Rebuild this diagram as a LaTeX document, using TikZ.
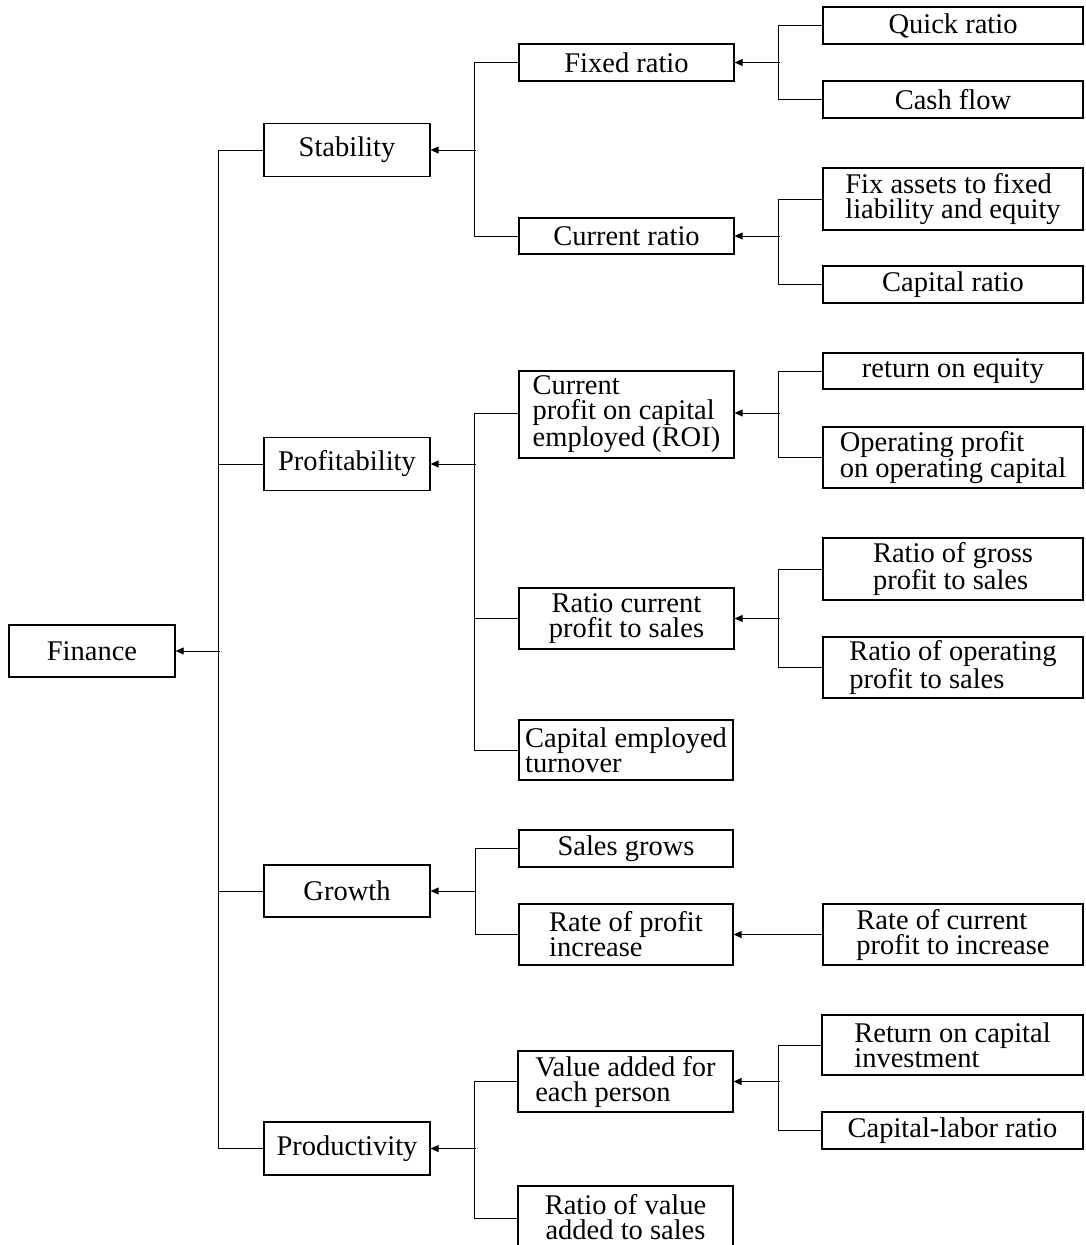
\documentclass[tikz,border=0pt]{standalone}
\usepackage{fontspec}
\setmainfont{Liberation Serif}
\usetikzlibrary{arrows.meta}

\begin{document}
\begin{tikzpicture}[x=1pt,y=-1pt,
  box/.style={draw, line width=1.2pt, inner sep=0pt, align=left,
    font={\fontsize{28.5}{25}\selectfont}},
  lone/.style={box, minimum width=166pt, minimum height=53pt},
  ltwo/.style={box, minimum width=215pt},
  lthree/.style={box, minimum width=260pt},
  link/.style={line width=0.9pt},
  arr/.style={link, -{Triangle[length=8pt,width=7pt]}}]

\useasboundingbox (0,0) rectangle (1085,1245);

% root
\node[lone, minimum height=52pt] (fin) at (92,651) {Finance};

% first level
\node[lone] (stab) at (347,150) {Stability};
\node[lone] (prof) at (347,464) {Profitability};
\node[lone, minimum height=52pt] (grow) at (347,891) {Growth};
\node[lone] (prod) at (347,1148.5) {Productivity};

% second level
\node[ltwo, minimum height=37pt] (fixr) at (626.5,62.5) {Fixed ratio};
\node[ltwo, minimum height=36pt] (curr) at (626.5,236) {Current ratio};
\node[ltwo, minimum height=87pt] (roi) at (626.5,414.5) {Current\\profit on capital\\employed (ROI)};
\node[ltwo, minimum height=61pt, align=center] (rcps) at (626.5,618.5) {Ratio current\\profit to sales};
\node[ltwo, minimum height=60pt, minimum width=214pt] (cet) at (626,750) {Capital employed\\turnover};
\node[ltwo, minimum height=37pt, minimum width=214pt] (sg) at (626,848.5) {Sales grows};
\node[ltwo, minimum height=61pt, minimum width=214pt] (rpi) at (626,934.5) {Rate of profit\\increase};
\node[ltwo, minimum height=61pt] (vae) at (625.5,1081.5) {Value added for\\each person};
\node[ltwo, minimum height=62pt, align=center] (rva) at (625.5,1217) {Ratio of value\\added to sales};

% third level
\node[lthree, minimum height=37pt] (qr) at (953,25.5) {Quick ratio};
\node[lthree, minimum height=37pt] (cf) at (953,99.5) {Cash flow};
\node[lthree, minimum height=62pt] (fa) at (953,199) {Fix assets to fixed\\liability and equity};
\node[lthree, minimum height=37pt] (cr) at (953,284.5) {Capital ratio};
\node[lthree, minimum height=36pt] (roe) at (953,371) {return on equity};
\node[lthree, minimum height=61pt] (opc) at (953,457.5) {Operating profit\\on operating capital};
\node[lthree, minimum height=62pt] (rgp) at (953,569) {Ratio of gross\\profit to sales};
\node[lthree, minimum height=61pt] (rop) at (953,667.5) {Ratio of operating\\profit to sales};
\node[lthree, minimum height=61pt] (rci) at (953,934.5) {Rate of current\\profit to increase};
\node[lthree, minimum height=60pt, minimum width=261pt] (rcap) at (952.5,1045) {Return on capital\\investment};
\node[lthree, minimum height=37pt, minimum width=261pt] (clr) at (952.5,1130.5) {Capital-labor ratio};

% trunk into Finance
\draw[link] (stab.west) -- ++(-45,0) |- (prod.west);
\draw[link] (prof.west) -- ++(-45,0);
\draw[link] (grow.west) -- ++(-45,0);
\draw[arr] ([xshift=44pt]fin.east) -- (fin.east);

% Stability branch
\draw[link] (fixr.west) -- ++(-44,0) |- (curr.west);
\draw[arr] ([xshift=45pt]stab.east) -- (stab.east);
\draw[link] (qr.west) -- ++(-44,0) |- (cf.west);
\draw[arr] ([xshift=45pt]fixr.east) -- (fixr.east);
\draw[link] (fa.west) -- ++(-44,0) |- (cr.west);
\draw[arr] ([xshift=45pt]curr.east) -- (curr.east);

% Profitability branch
\draw[link] ([yshift=1.5pt]roi.west) -- ++(-44,0) |- (cet.west);
\draw[link] (rcps.west) -- ++(-44,0);
\draw[arr] ([xshift=45pt]prof.east) -- (prof.east);
\draw[link] (roe.west) -- ++(-44,0) |- (opc.west);
\draw[arr] ([xshift=45pt,yshift=1.5pt]roi.east) -- ([yshift=1.5pt]roi.east);
\draw[link] (rgp.west) -- ++(-44,0) |- (rop.west);
\draw[arr] ([xshift=45pt]rcps.east) -- (rcps.east);

% Growth branch
\draw[link] (sg.west) -- ++(-43,0) |- (rpi.west);
\draw[arr] ([xshift=45pt]grow.east) -- (grow.east);
\draw[arr] (rci.west) -- (rpi.east);

% Productivity branch
\draw[link] (vae.west) -- ++(-43,0) |- ([yshift=-1pt]rva.west);
\draw[arr] ([xshift=45pt]prod.east) -- (prod.east);
\draw[link] (rcap.west) -- ++(-43,0) |- (clr.west);
\draw[arr] ([xshift=46pt]vae.east) -- (vae.east);

\end{tikzpicture}
\end{document}
